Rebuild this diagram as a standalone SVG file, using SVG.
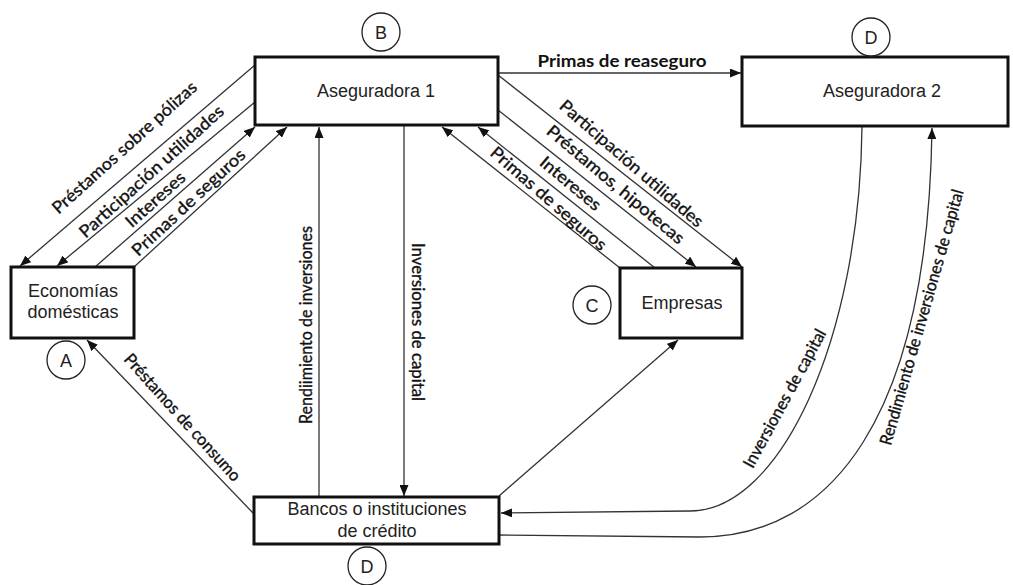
<svg xmlns="http://www.w3.org/2000/svg" width="1013" height="585" viewBox="0 0 1013 585">
<style>
.box{fill:#fff;stroke:#111;stroke-width:3}
.circ{fill:#fff;stroke:#222;stroke-width:1.3}
.nt{font-family:"Liberation Sans",Arial,sans-serif;font-size:18px;fill:#222;text-anchor:middle}
.lt{font-family:Lato,"Open Sans",sans-serif;font-size:17px;fill:#111;stroke:#111;stroke-width:0.35;text-anchor:middle;dominant-baseline:central}
.ln{fill:none;stroke:#333;stroke-width:1.3}
</style>
<defs>
<marker id="ah" markerUnits="userSpaceOnUse" markerWidth="11" markerHeight="9" refX="11" refY="4.5" orient="auto">
<path d="M0,0 L11,4.5 L0,9 z" fill="#111"/>
</marker>
</defs>
<rect width="1013" height="585" fill="#fff"/>

<g id="connectors">
<line class="ln" x1="499" y1="73" x2="741" y2="73" marker-end="url(#ah)"/>
<line class="ln" x1="255" y1="65" x2="20" y2="266" marker-end="url(#ah)"/>
<line class="ln" x1="255" y1="102" x2="57" y2="266" marker-end="url(#ah)"/>
<line class="ln" x1="95" y1="267" x2="255" y2="127" marker-end="url(#ah)"/>
<line class="ln" x1="134" y1="267" x2="287" y2="127" marker-end="url(#ah)"/>
<line class="ln" x1="498" y1="75" x2="742" y2="267" marker-end="url(#ah)"/>
<line class="ln" x1="498" y1="110" x2="696" y2="267" marker-end="url(#ah)"/>
<line class="ln" x1="655" y1="268" x2="478" y2="127" marker-end="url(#ah)"/>
<line class="ln" x1="620" y1="268" x2="442" y2="127" marker-end="url(#ah)"/>
<line class="ln" x1="319" y1="497" x2="319" y2="127" marker-end="url(#ah)"/>
<line class="ln" x1="404" y1="125" x2="404" y2="496" marker-end="url(#ah)"/>
<line class="ln" x1="254" y1="514" x2="87" y2="340" marker-end="url(#ah)"/>
<line class="ln" x1="499" y1="496" x2="678" y2="340" marker-end="url(#ah)"/>
<path class="ln" d="M862,126 C860,340 780,511 690,511 L501,513" marker-end="url(#ah)"/>
<path class="ln" d="M499,535 L700,537 C830,537 928,420 932,128" marker-end="url(#ah)"/>
</g>

<g id="labels">
<text class="lt" style="font-weight:bold;stroke-width:0" x="622" y="60" textLength="169" lengthAdjust="spacingAndGlyphs">Primas de reaseguro</text>
<text class="lt" transform="translate(124,147) rotate(-42)" textLength="188" lengthAdjust="spacingAndGlyphs">Préstamos sobre pólizas</text>
<text class="lt" transform="translate(151,171) rotate(-42)" textLength="188" lengthAdjust="spacingAndGlyphs">Participación utilidades</text>
<text class="lt" transform="translate(155,199) rotate(-42)" textLength="74" lengthAdjust="spacingAndGlyphs">Intereses</text>
<text class="lt" transform="translate(188,202) rotate(-43)" textLength="148" lengthAdjust="spacingAndGlyphs">Primas de seguros</text>
<text class="lt" transform="translate(632,163) rotate(41)" textLength="184" lengthAdjust="spacingAndGlyphs">Participación utilidades</text>
<text class="lt" transform="translate(616,184) rotate(40)" textLength="174" lengthAdjust="spacingAndGlyphs">Préstamos, hipotecas</text>
<text class="lt" transform="translate(571,183) rotate(40)" textLength="74" lengthAdjust="spacingAndGlyphs">Intereses</text>
<text class="lt" transform="translate(549,198) rotate(41)" textLength="148" lengthAdjust="spacingAndGlyphs">Primas de seguros</text>
<text class="lt" transform="translate(305,325) rotate(-90)" textLength="198" lengthAdjust="spacingAndGlyphs">Rendiimiento de inversiones</text>
<text class="lt" transform="translate(418,322) rotate(90)" textLength="158" lengthAdjust="spacingAndGlyphs">Inversiones de capital</text>
<text class="lt" transform="translate(183,417) rotate(48)" textLength="165" lengthAdjust="spacingAndGlyphs">Préstamos de consumo</text>
<text class="lt" transform="translate(784,398) rotate(-61.5)" textLength="155" lengthAdjust="spacingAndGlyphs">Inversiones de capital</text>
<text class="lt" transform="translate(921,317) rotate(-74)" textLength="265" lengthAdjust="spacingAndGlyphs">Rendimiento de inversiones de capital</text>
</g>

<g id="aseguradora1">
<rect class="box" x="255" y="57" width="243" height="68"/>
<text class="nt" x="376" y="97">Aseguradora 1</text>
</g>
<g id="circleB">
<circle class="circ" cx="381" cy="32" r="19"/>
<text class="nt" x="381" y="38.5">B</text>
</g>
<g id="aseguradora2">
<rect class="box" x="742" y="57" width="266" height="69"/>
<text class="nt" x="882" y="97">Aseguradora 2</text>
</g>
<g id="circleD1">
<circle class="circ" cx="871" cy="37" r="19"/>
<text class="nt" x="871" y="43.5">D</text>
</g>
<g id="economias">
<rect class="box" x="11" y="267" width="123" height="71"/>
<text class="nt" x="73" y="297">Economías</text>
<text class="nt" x="73" y="318">domésticas</text>
</g>
<g id="circleA">
<circle class="circ" cx="66" cy="360" r="19"/>
<text class="nt" x="66" y="366.5">A</text>
</g>
<g id="empresas">
<rect class="box" x="620" y="268" width="122" height="70"/>
<text class="nt" x="682" y="309">Empresas</text>
</g>
<g id="circleC">
<circle class="circ" cx="592" cy="305" r="19"/>
<text class="nt" x="592" y="311.5">C</text>
</g>
<g id="bancos">
<rect class="box" x="254" y="497" width="245" height="47"/>
<text class="nt" x="377" y="515">Bancos o instituciones</text>
<text class="nt" x="377" y="537">de crédito</text>
</g>
<g id="circleD2">
<circle class="circ" cx="367" cy="566" r="19"/>
<text class="nt" x="367" y="572.5">D</text>
</g>
</svg>
